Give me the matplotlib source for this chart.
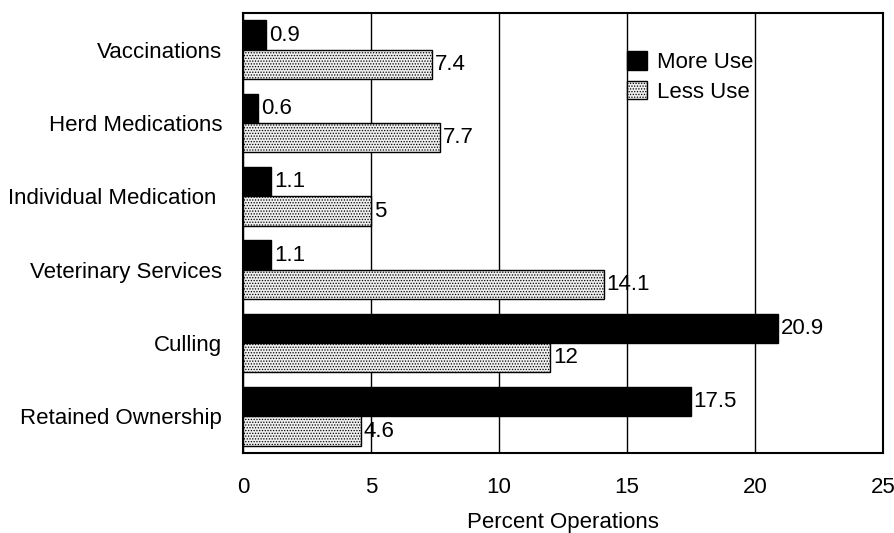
import numpy as np
import matplotlib
matplotlib.use("Agg")
import matplotlib.pyplot as plt

plt.rcParams['font.family'] = ['Liberation Sans', 'DejaVu Sans']
plt.rcParams['hatch.color'] = '#555555'
plt.rcParams['hatch.linewidth'] = 0.6

# practices, listed top to bottom
categories = ["Vaccinations", "Herd Medications", "Individual Medication ",
              "Veterinary Services", "Culling", "Retained Ownership"]
more_use = [0.9, 0.6, 1.1, 1.1, 20.9, 17.5]
less_use = [7.4, 7.7, 5, 14.1, 12, 4.6]
x_ticks = [0, 5, 10, 15, 20, 25]

fs = 16

fig = plt.figure(figsize=(8.95, 5.33), dpi=100)
ax = fig.add_axes([0.2715, 0.150, 0.715, 0.8255])

y = np.arange(len(categories))
h = 0.40

ax.barh(y - h / 2, more_use, height=h, color='black', edgecolor='black',
        linewidth=1, label="More Use", zorder=3)
ax.barh(y + h / 2, less_use, height=h, color='#eeeeee', edgecolor='black',
        hatch='......', linewidth=1, label="Less Use", zorder=3)

# value labels just past the bar ends
for yi, v in zip(y, more_use):
    ax.annotate(f"{v:g}", (v, yi - h / 2), xytext=(2, 0), textcoords='offset points',
                va='center', ha='left', fontsize=fs, zorder=4)
for yi, v in zip(y, less_use):
    ax.annotate(f"{v:g}", (v, yi + h / 2), xytext=(2, 0), textcoords='offset points',
                va='center', ha='left', fontsize=fs, zorder=4)

ax.set_xlim(0, 25)
ax.set_ylim(len(categories) - 0.5, -0.5)
ax.set_xticks(x_ticks)
ax.set_xticklabels([str(t) for t in x_ticks], fontsize=fs)
ax.set_yticks(y)
ax.set_yticklabels(categories, fontsize=fs)
ax.tick_params(length=0, axis='x', pad=17)
ax.tick_params(length=0, axis='y', pad=15)
ax.xaxis.grid(True, color='black', linewidth=1.0, zorder=0)
ax.set_axisbelow(True)
for s in ax.spines.values():
    s.set_linewidth(1.5)

ax.set_xlabel("Percent Operations", fontsize=fs, labelpad=10)

ax.legend(loc='upper left', bbox_to_anchor=(15, 0.02), bbox_transform=ax.transData,
          frameon=False, fontsize=fs, handlelength=0.9, handleheight=0.9,
          handletextpad=0.45, labelspacing=0.35, borderaxespad=0, borderpad=0)

fig.savefig("out.png", dpi=100)
